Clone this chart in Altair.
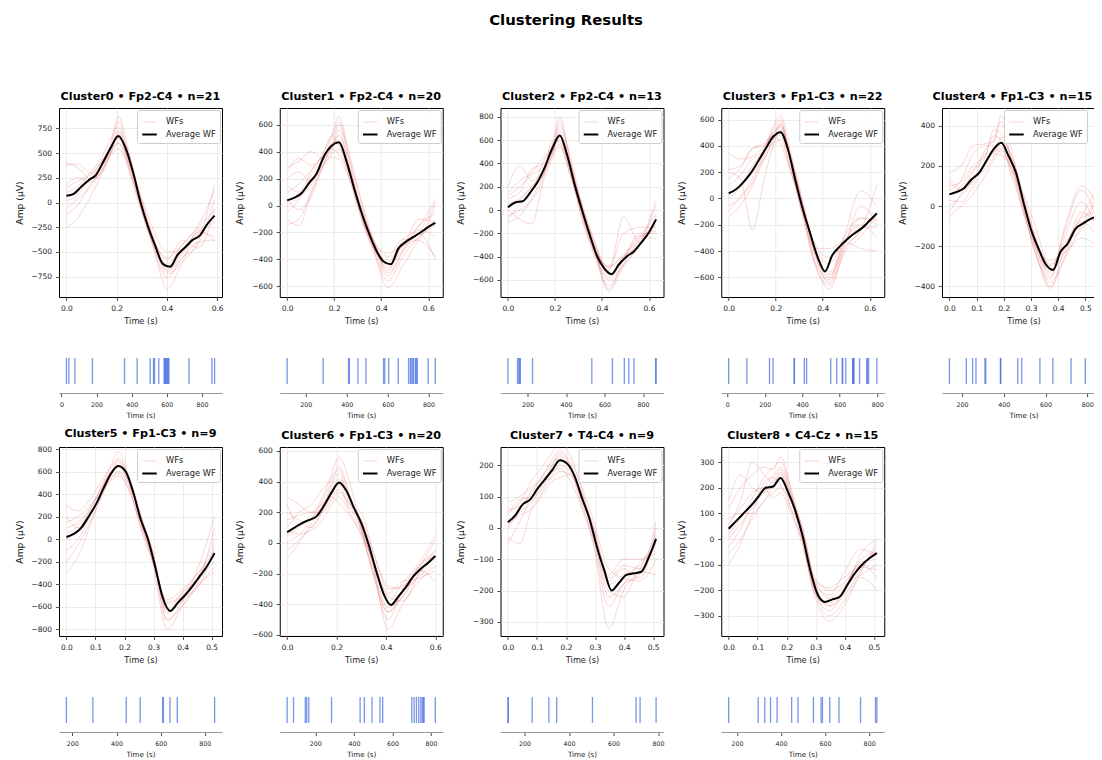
import altair as alt
import pandas as pd

# ---------------- data ----------------
TITLES = ["Cluster0 • Fp2-C4 • n=21", "Cluster1 • Fp2-C4 • n=20", "Cluster2 • Fp2-C4 • n=13",
          "Cluster3 • Fp1-C3 • n=22", "Cluster4 • Fp1-C3 • n=15", "Cluster5 • Fp1-C3 • n=9",
          "Cluster6 • Fp1-C3 • n=20", "Cluster7 • T4-C4 • n=9", "Cluster8 • C4-Cz • n=15"]
DURATION = [0.59, 0.63, 0.63, 0.63, 0.545, 0.51, 0.60, 0.51, 0.51]
Y_DOMAIN = [[-955, 955], [-679, 724], [-746, 875], [-750, 689], [-453, 488],
            [-862, 818], [-607, 626], [-345, 258], [-378, 359]]
Y_TICKS = [[-750, -500, -250, 0, 250, 500, 750],
           [-600, -400, -200, 0, 200, 400, 600],
           [-600, -400, -200, 0, 200, 400, 600, 800],
           [-600, -400, -200, 0, 200, 400, 600],
           [-400, -200, 0, 200, 400],
           [-800, -600, -400, -200, 0, 200, 400, 600, 800],
           [-600, -400, -200, 0, 200, 400, 600],
           [-300, -200, -100, 0, 100, 200],
           [-300, -200, -100, 0, 100, 200, 300]]
X_TICKS_A = [0.0, 0.2, 0.4, 0.6]
X_TICKS_B = [0.0, 0.1, 0.2, 0.3, 0.4, 0.5]
X_TICKS = [X_TICKS_A, X_TICKS_A, X_TICKS_A, X_TICKS_A, X_TICKS_B,
           X_TICKS_B, X_TICKS_A, X_TICKS_B, X_TICKS_B]
RASTER_TICKS = [0, 200, 400, 600, 800]

# sample positions as fraction of each waveform's duration
AVG_FRAC = [0, 0.05, 0.1, 0.15, 0.2, 0.25, 0.3, 0.35, 0.4, 0.45, 0.5,
            0.55, 0.6, 0.65, 0.7, 0.75, 0.8, 0.85, 0.9, 0.95, 1.0]
WF_FRAC = [0, 0.08, 0.16, 0.24, 0.30, 0.35, 0.42, 0.50, 0.58, 0.68, 0.78, 0.89, 1.0]

AVG_C0 = [69, 88, 160, 225, 280, 415, 555, 672, 550, 305, 5, -240, -440, -620, -650, -530, -455, -380, -335, -220, -133]
AVG_C1 = [38, 58, 95, 170, 240, 370, 444, 469, 330, 135, -46, -200, -330, -415, -435, -320, -270, -235, -200, -160, -128]
AVG_C2 = [23, 65, 75, 150, 240, 370, 530, 640, 470, 220, 0, -205, -390, -500, -550, -465, -400, -355, -280, -195, -80]
AVG_C3 = [39, 70, 125, 195, 285, 380, 470, 505, 375, 140, -80, -265, -445, -555, -430, -365, -310, -265, -225, -170, -113]
AVG_C4 = [58, 70, 90, 133, 165, 225, 285, 315, 248, 165, 18, -115, -210, -290, -318, -228, -185, -115, -88, -65, -52]
AVG_C5 = [18, 45, 100, 200, 310, 450, 580, 650, 600, 420, 180, 0, -250, -520, -640, -570, -500, -420, -330, -240, -125]
AVG_C6 = [70, 100, 130, 150, 175, 245, 330, 395, 340, 230, 130, -10, -180, -330, -405, -350, -290, -220, -170, -130, -85]
AVG_C7 = [18, 40, 75, 90, 125, 155, 185, 216, 205, 165, 95, 30, -60, -135, -200, -175, -150, -145, -140, -95, -35]
AVG_C8 = [40, 70, 100, 130, 165, 200, 205, 238, 185, 110, 10, -120, -215, -245, -235, -225, -180, -135, -100, -75, -55]

WFS_C0 = [
    [380, 390, 300, 420, 560, 680, 430, -20, -380, -640, -500, -300, -140],
    [-250, -150, 50, 300, 520, 720, 500, 60, -320, -700, -560, -400, -380],
    [150, 220, 280, 380, 600, 870, 520, -30, -420, -870, -620, -380, 180],
    [100, 170, 300, 460, 650, 760, 380, -40, -360, -560, -430, -250, -80],
    [-60, 40, 150, 330, 500, 600, 420, 40, -330, -680, -520, -320, -200],
    [20, 80, 250, 420, 560, 650, 410, -10, -420, -760, -560, -420, 30],
    [400, 350, 240, 300, 480, 540, 380, 80, -250, -500, -470, -300, -350],
    [60, 130, 230, 380, 540, 820, 460, 10, -350, -620, -430, -230, 120],
    [180, 250, 200, 350, 520, 600, 330, -60, -400, -720, -600, -280, -400],
    [-120, -20, 180, 320, 500, 700, 360, -20, -350, -580, -380, -460, -60],
]
WFS_C1 = [
    [280, 330, 400, 350, 500, 620, 330, -80, -320, -560, -380, -230, -150],
    [-140, -100, 100, 300, 430, 520, 290, -20, -260, -420, -260, -150, 50],
    [150, 100, 250, 380, 520, 660, 380, 40, -240, -500, -350, -210, -400],
    [50, -30, 60, 280, 380, 420, 200, -100, -330, -610, -450, -250, -100],
    [200, 250, 180, 330, 460, 480, 240, -60, -280, -350, -300, -180, -230],
    [-50, 50, 220, 340, 400, 560, 280, -30, -290, -460, -300, -240, 0],
    [100, 160, 260, 380, 520, 450, 250, -60, -300, -520, -330, -100, -130],
    [-100, -150, 80, 290, 420, 380, 230, -20, -250, -380, -250, -260, -380],
    [250, 350, 300, 360, 440, 600, 350, 20, -270, -480, -280, -200, 30],
    [0, 60, 150, 300, 360, 340, 200, -80, -310, -440, -330, -150, -60],
]
WFS_C2 = [
    [200, 380, 250, 350, 560, 800, 430, 20, -300, -680, -420, -200, -200],
    [-100, -50, 100, 300, 480, 620, 380, 50, -250, -500, -200, -150, -150],
    [100, 150, 350, 400, 550, 680, 400, -30, -350, -600, -470, -280, 80],
    [-50, 0, 80, 280, 600, 580, 340, -80, -380, -650, -460, -240, -30],
    [150, 250, 320, 450, 500, 560, 300, -20, -300, -490, -380, -260, -90],
    [0, -80, -120, 250, 450, 720, 460, 40, -260, -560, -400, -300, -120],
    [50, 100, 200, 320, 500, 650, 360, -60, -360, -580, -420, -220, -250],
    [-80, 50, 150, 420, 540, 600, 330, 30, -280, -520, -60, -280, -50],
    [120, 200, 300, 380, 520, 760, 420, 0, -320, -700, -480, -300, 40],
    [30, 80, 200, 300, 470, 540, 300, -40, -330, -480, -400, -230, -180],
]
WFS_C3 = [
    [350, 300, 320, 400, 500, 560, 300, -60, -420, -600, -350, -150, -200],
    [-140, -50, 100, 300, 450, 580, 280, -100, -480, -690, -400, -250, -100],
    [200, 150, -240, 150, 400, 520, 330, -20, -380, -560, -330, -200, -300],
    [50, 100, 250, 380, 550, 630, 340, -50, -420, -640, -380, -240, 100],
    [100, 180, 300, 360, 420, 450, 200, -120, -380, -380, -330, -380, -400],
    [-50, 0, 150, 350, 520, 600, 260, -100, -470, -620, -300, -150, -160],
    [220, 250, 380, 400, 480, 480, 220, -80, -360, -500, -280, 60, -60],
    [0, 80, 200, 300, 440, 560, 250, -140, -500, -660, -420, -290, -130],
    [-100, 20, 120, 330, 480, 420, 200, -60, -340, -450, -340, -220, -220],
    [150, 230, 380, 420, 500, 540, 300, -40, -400, -580, -360, -60, -180],
]
WFS_C4 = [
    [170, 200, 300, 310, 320, 450, 280, 30, -200, -330, -120, 80, -80],
    [-50, 0, 60, 150, 230, 280, 170, -20, -230, -410, -200, -50, 90],
    [100, 120, 200, 250, 350, 330, 250, 50, -150, -350, -150, 20, -120],
    [30, 20, 100, 200, 260, 250, 190, 10, -180, -270, -230, -160, -200],
    [120, 80, 120, 280, 330, 420, 220, -40, -200, -380, -250, -60, -30],
    [0, 50, 130, 210, 280, 300, 180, 60, -100, -300, -180, -120, 50],
    [80, 130, 260, 300, 300, 260, 200, 0, -190, -320, -230, -30, -100],
    [-30, 60, 150, 180, 250, 340, 240, -10, -240, -360, -100, 100, 0],
    [60, 100, 180, 240, 380, 360, 230, 40, -160, -290, -200, -80, -150],
    [140, 90, 170, 260, 270, 290, 150, -30, -220, -400, -260, -100, 60],
]
WFS_C5 = [
    [300, 250, 350, 520, 640, 700, 560, 220, -120, -580, -480, -300, -150],
    [-300, -150, 120, 400, 560, 680, 540, 200, -100, -720, -560, -250, 200],
    [100, 150, 280, 480, 650, 780, 560, 160, -200, -800, -600, -400, -300],
    [-100, 0, 200, 400, 520, 560, 450, 120, -180, -560, -520, -420, -50],
    [50, 120, 260, 460, 600, 640, 500, 200, -120, -660, -500, -350, -200],
    [200, 100, 220, 420, 540, 600, 480, 100, -200, -540, -450, -300, -100],
    [-200, -50, 150, 380, 580, 720, 540, 220, -100, -640, -560, -380, 100],
    [0, 80, 260, 460, 600, 660, 500, 180, -160, -720, -600, -420, -250],
    [150, 200, 300, 420, 540, 580, 440, 140, -150, -620, -480, -330, 0],
]
WFS_C6 = [
    [300, 250, 200, 300, 450, 560, 400, 100, -200, -450, -350, -200, -100],
    [-50, 20, 100, 200, 300, 350, 220, 150, -50, -300, -280, -160, 20],
    [100, 200, 250, 350, 420, 480, 300, 100, -150, -560, -400, -250, -150],
    [0, 50, 80, 150, 250, 300, 200, 50, -180, -450, -320, -150, -60],
    [200, 150, 100, 220, 380, 450, 260, 80, -120, -380, -260, -130, 50],
    [50, 100, 180, 260, 320, 380, 240, 200, -60, -280, -300, -220, -120],
    [-100, 0, 120, 250, 350, 420, 300, 120, -150, -420, -350, -180, -250],
    [150, 180, 200, 200, 280, 330, 260, 150, -100, -350, -380, -200, -40],
    [80, 60, 150, 280, 400, 500, 320, 80, -200, -500, -300, -150, -80],
    [250, 120, 160, 240, 300, 260, 180, 60, -120, -330, -250, -230, -180],
]
WFS_C7 = [
    [50, 80, 150, 200, 240, 270, 230, 120, -20, -180, -150, -120, -50],
    [-30, -50, 60, 120, 170, 200, 180, 80, -50, -250, -180, -150, 20],
    [80, 100, 130, 160, 200, 230, 200, 100, 0, -150, -100, -100, -80],
    [0, 50, 80, 140, 180, 190, 150, 60, -60, -320, -200, -130, -20],
    [20, 60, 120, 170, 220, 250, 210, 130, 20, -130, -160, -170, -100],
    [-50, 20, 100, 150, 160, 180, 170, 70, -40, -200, -220, -140, -150],
    [40, 90, 100, 130, 200, 240, 200, 100, -10, -170, -130, -160, 0],
    [10, 40, 60, 110, 150, 160, 170, 90, -30, -220, -180, -110, -60],
    [60, 70, 110, 170, 210, 220, 190, 110, 0, -160, -120, -130, -30],
]
WFS_C8 = [
    [120, 200, 250, 280, 270, 320, 200, 20, -200, -280, -200, -80, -50],
    [-60, 0, 80, 150, 200, 240, 150, -20, -220, -320, -260, -130, -10],
    [50, 150, 300, 250, 220, 260, 120, 30, -150, -200, -170, -100, -150],
    [0, 60, 120, 200, 250, 280, 180, 0, -190, -260, -200, -60, 0],
    [80, 100, 100, 150, 180, 200, 150, 40, -160, -230, -180, -140, -100],
    [-100, -20, 100, 220, 240, 210, 120, -30, -200, -300, -240, -150, -200],
    [150, 250, 200, 180, 210, 250, 170, 10, -170, -220, -130, -40, -60],
    [20, 80, 160, 240, 280, 300, 190, 0, -210, -260, -220, -120, -30],
    [60, 120, 180, 200, 160, 180, 100, -10, -160, -190, -150, -110, -120],
    [-30, 40, 140, 180, 230, 270, 170, 40, -180, -250, -190, -90, -80],
]

EVENTS_C0 = [28, 42, 76, 176, 359, 431, 505, 524, 530, 554, 584, 588, 592, 596, 600, 604, 608, 612, 726, 857, 872]
EVENTS_C1 = [109, 285, 409, 413, 455, 494, 580, 586, 605, 652, 702, 711, 715, 722, 727, 736, 740, 745, 798, 833]
EVENTS_C2 = [98, 148, 155, 160, 162, 226, 534, 641, 703, 726, 753, 866, 868]
EVENTS_C3 = [7, 104, 225, 244, 356, 358, 411, 423, 552, 584, 613, 616, 632, 669, 671, 673, 676, 706, 745, 747, 754, 798]
EVENTS_C4 = [140, 221, 251, 267, 310, 314, 384, 386, 467, 486, 573, 635, 722, 790, 849]
EVENTS_C5 = [173, 293, 444, 507, 609, 612, 642, 675, 844]
EVENTS_C6 = [54, 87, 148, 155, 166, 284, 432, 454, 494, 535, 549, 700, 712, 724, 736, 747, 754, 760, 764, 822]
EVENTS_C7 = [125, 127, 234, 309, 344, 505, 701, 719, 791]
EVENTS_C8 = [162, 296, 326, 352, 382, 448, 477, 547, 582, 588, 621, 663, 761, 829, 835]

AVGS = [AVG_C0, AVG_C1, AVG_C2, AVG_C3, AVG_C4, AVG_C5, AVG_C6, AVG_C7, AVG_C8]
WFS = [WFS_C0, WFS_C1, WFS_C2, WFS_C3, WFS_C4, WFS_C5, WFS_C6, WFS_C7, WFS_C8]
EVENTS = [EVENTS_C0, EVENTS_C1, EVENTS_C2, EVENTS_C3, EVENTS_C4, EVENTS_C5, EVENTS_C6, EVENTS_C7, EVENTS_C8]
KINDS = ["WFs", "Average WF"]

# ---------------- style ----------------
FONT = "DejaVu Sans"
W, H, RH = 163, 189, 42
PINK = "#e8595c"
BLUE = "#4169e1"
TXT = "#222222"
EDGE_COL = 4  # the panel that sits at the right edge of the page


def wave_panel(i):
    T = DURATION[i]
    wf_rows, avg_rows = [], []
    for k, wf in enumerate(WFS[i]):
        for f, v in zip(WF_FRAC, wf):
            wf_rows.append({"t": f * T, "amp": v, "trace": f"w{k}", "kind": "WFs"})
    for f, v in zip(AVG_FRAC, AVGS[i]):
        avg_rows.append({"t": f * T, "amp": v, "trace": "avg", "kind": "Average WF"})
    x = alt.X("t:Q", scale=alt.Scale(domain=[-0.05 * T, 1.05 * T], nice=False, zero=False),
              axis=alt.Axis(title="Time (s)", values=X_TICKS[i], format=".1f", grid=True,
                            domain=False, tickSize=3.5, labelPadding=4, labelFontSize=7.5,
                            titleFontSize=8.2, titlePadding=5, labelFlush=False))
    y = alt.Y("amp:Q", scale=alt.Scale(domain=Y_DOMAIN[i], nice=False, zero=False),
              axis=alt.Axis(title="Amp (µV)", values=Y_TICKS[i], format="d", grid=True,
                            domain=False, tickSize=3.5, labelPadding=4, labelFontSize=7.5,
                            titleFontSize=9.2, minExtent=27, maxExtent=27, titlePadding=8,
                            labelFlush=False))
    if i == EDGE_COL:
        leg = alt.Legend(title=None, orient="none", legendX=62, legendY=2)
    else:
        leg = alt.Legend(title=None, orient="top-right", offset=2)
    color = alt.Color("kind:N", scale=alt.Scale(domain=KINDS, range=[PINK, "black"]), legend=leg)
    opac = alt.Opacity("kind:N", scale=alt.Scale(domain=KINDS, range=[0.33, 1.0]), legend=leg)
    sw = alt.StrokeWidth("kind:N", scale=alt.Scale(domain=KINDS, range=[0.75, 2.0]), legend=leg)
    enc = dict(x=x, y=y, color=color, opacity=opac, strokeWidth=sw, detail="trace:N")
    pink = alt.Chart(pd.DataFrame(wf_rows)).mark_line(interpolate="monotone", clip=True).encode(**enc)
    avg = alt.Chart(pd.DataFrame(avg_rows)).mark_line(interpolate="monotone", clip=True).encode(**enc)
    return alt.layer(pink, avg).properties(
        width=W, height=H,
        title=alt.TitleParams(TITLES[i], fontSize=11.2, fontWeight="bold", font=FONT,
                              color="black", offset=6, frame="group", anchor="middle",
                              dx=(-11 if i == EDGE_COL else 0)),
    )


def raster_panel(i):
    ev = EVENTS[i]
    lo = min(ev) - 0.05 * (max(ev) - min(ev))
    hi = max(ev) + 0.05 * (max(ev) - min(ev))
    ticks = [v for v in RASTER_TICKS if lo <= v <= hi]
    return alt.Chart(pd.DataFrame({"time": ev})).mark_rule(
        color=BLUE, opacity=0.7, strokeWidth=1.3
    ).encode(
        x=alt.X("time:Q", scale=alt.Scale(domain=[lo, hi], nice=False, zero=False),
                axis=alt.Axis(title="Time (s)", values=ticks, format="d", grid=False,
                              domain=True, domainColor="#999999", domainWidth=1.2,
                              tickSize=3.5, labelPadding=5, labelFontSize=6.3,
                              titleFontSize=7.2, titlePadding=4, labelFlush=False)),
        y=alt.value(7), y2=alt.value(33),
    ).properties(width=W, height=RH, view=alt.ViewBackground(stroke="transparent"))


def blank_panel():
    return alt.Chart(pd.DataFrame({"t": [0.0]})).mark_point(opacity=0).encode(
        x=alt.X("t:Q", axis=None), y=alt.Y("t:Q", axis=None)
    ).properties(width=W, height=H, view=alt.ViewBackground(stroke="transparent"))


cells = [wave_panel(i) for i in range(5)] + [raster_panel(i) for i in range(5)] \
    + [wave_panel(i) for i in range(5, 9)] + [blank_panel()] \
    + [raster_panel(i) for i in range(5, 9)]

# fixed-size canvas (1086 x 752 incl. padding); the 5th column is cut at the right edge
chart = alt.concat(
    *cells, columns=5, spacing={"row": 54, "column": 57.75}, bounds="flush"
).resolve_scale(
    x="independent", y="independent", color="independent",
    opacity="independent", strokeWidth="independent"
).resolve_legend(
    color="independent", opacity="independent", strokeWidth="independent"
).properties(
    title=alt.TitleParams("Clustering Results", fontSize=14.9, fontWeight="bold", font=FONT,
                          color="black", anchor="middle", offset=62, dx=6),
    autosize=alt.AutoSizeParams(type="none"),
    padding={"left": 51, "top": 100, "right": 1035, "bottom": 652},
).configure(
    font=FONT
).configure_view(
    stroke="black", strokeWidth=1
).configure_axis(
    labelFont=FONT, titleFont=FONT, labelColor=TXT, titleColor=TXT, tickColor=TXT,
    titleFontWeight="normal", gridColor="#e6e6e6", gridWidth=0.8, tickWidth=0.8
).configure_legend(
    padding=4, fillColor="rgba(255,255,255,0.85)", strokeColor="#cccccc",
    cornerRadius=2, labelFont=FONT, labelFontSize=8.3, labelColor=TXT,
    symbolType="stroke", symbolSize=210, rowPadding=-1, labelOffset=8
)

chart.save("out.html", embed_options={"renderer": "svg", "actions": False})
